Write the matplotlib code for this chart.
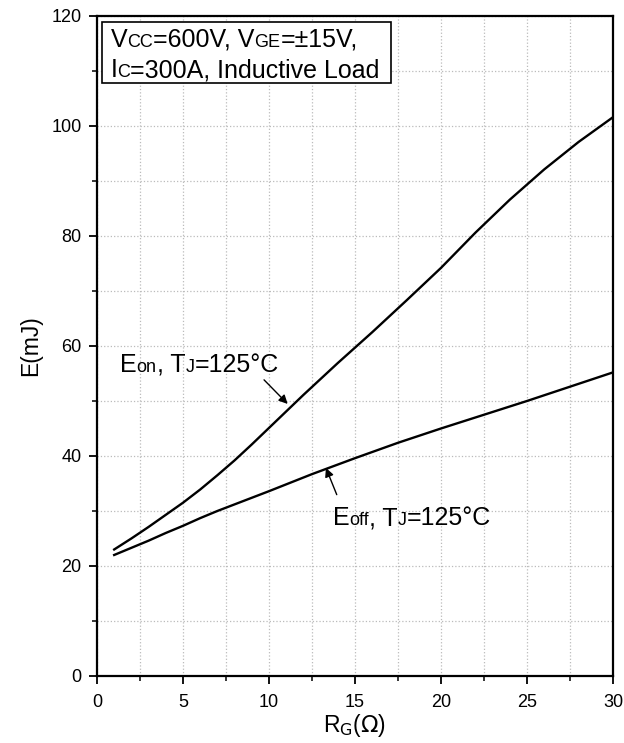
import matplotlib
matplotlib.use('Agg')
import matplotlib.pyplot as plt
from matplotlib.ticker import MultipleLocator
from matplotlib.transforms import offset_copy
from matplotlib.patches import Rectangle

plt.rcParams['font.family'] = ['Liberation Sans', 'DejaVu Sans']

# 讀圖得到的資料
rg_on = [1, 2, 3, 4, 5, 6, 7, 8, 9, 10, 12, 14, 16, 18, 20, 22, 24, 26, 28, 30]
e_on = [23.0, 25.0, 27.1, 29.3, 31.5, 33.9, 36.5, 39.2, 42.1, 45.1, 51.1, 56.9,
        62.5, 68.3, 74.2, 80.6, 86.6, 92.1, 97.1, 101.6]

rg_off = [1, 2, 3, 4, 5, 6, 7, 8, 9, 10, 12.5, 15, 17.5, 20, 22.5, 25, 27.5, 30]
e_off = [22.0, 23.3, 24.6, 26.0, 27.3, 28.7, 30.0, 31.2, 32.4, 33.6, 36.7, 39.6,
         42.4, 45.0, 47.5, 50.0, 52.6, 55.2]

MAIN = 18
SUB = 13

fig = plt.figure(figsize=(6.24, 7.43), dpi=100)
ax = fig.add_axes([0.1554, 0.0902, 0.8270, 0.8883])
renderer = fig.canvas.get_renderer()


#文字: 下標放在基線上 (字較小)
def runs(x, y, parts, zorder=5):
    dx = 0.0
    for s, size in parts:
        tr = offset_copy(ax.transData, fig=fig, x=dx, y=0, units='dots')
        t = ax.text(x, y, s, fontsize=size, ha='left', va='baseline',
                    transform=tr, zorder=zorder)
        dx += t.get_window_extent(renderer).width


ax.plot(rg_on, e_on, color='black', lw=1.7)
ax.plot(rg_off, e_off, color='black', lw=1.7)

ax.set_xlim(0, 30)
ax.set_ylim(0, 120)
ax.xaxis.set_major_locator(MultipleLocator(5))
ax.xaxis.set_minor_locator(MultipleLocator(2.5))
ax.yaxis.set_major_locator(MultipleLocator(20))
ax.yaxis.set_minor_locator(MultipleLocator(10))

ax.grid(which='both', color='#bbbbbb', linestyle=':', linewidth=0.9)
ax.set_axisbelow(True)

ax.tick_params(which='major', direction='out', length=6, width=1.3, labelsize=13, pad=5)
ax.tick_params(axis='x', which='major', pad=7)
ax.tick_params(which='minor', direction='out', length=3.5, width=1.1)
for s in ax.spines.values():
    s.set_linewidth(1.6)

ax.set_xlabel(r'R$_{\mathrm{G}}$($\Omega$)', fontsize=16.5, labelpad=1)
ax.set_ylabel('E(mJ)', fontsize=16.5, labelpad=7)

# 條件方框
ax.add_patch(Rectangle((0.27, 107.9), 16.85, 11.06, facecolor='white',
                       edgecolor='black', lw=1.2, zorder=4))
runs(0.80, 114.4, [('V', MAIN), ('CC', SUB), ('=600V, V', MAIN), ('GE', SUB), ('=\u00b115V,', MAIN)])
runs(0.80, 108.85, [('I', MAIN), ('C', SUB), ('=300A, Inductive Load', MAIN)])

# 曲線標籤
ax.annotate('', xy=(11.2, 49.1), xytext=(9.6, 54.2),
            arrowprops=dict(arrowstyle='-|>', color='black', lw=1.0, mutation_scale=13))
runs(1.34, 55.3, [('E', MAIN), ('on', SUB), (', T', MAIN), ('J', SUB), ('=125\u00b0C', MAIN)])

ax.annotate('', xy=(13.25, 38.3), xytext=(14.0, 32.5),
            arrowprops=dict(arrowstyle='-|>', color='black', lw=1.0, mutation_scale=13))
runs(13.7, 27.45, [('E', MAIN), ('off', SUB), (', T', MAIN), ('J', SUB), ('=125\u00b0C', MAIN)])

fig.savefig('out.png', dpi=100)
